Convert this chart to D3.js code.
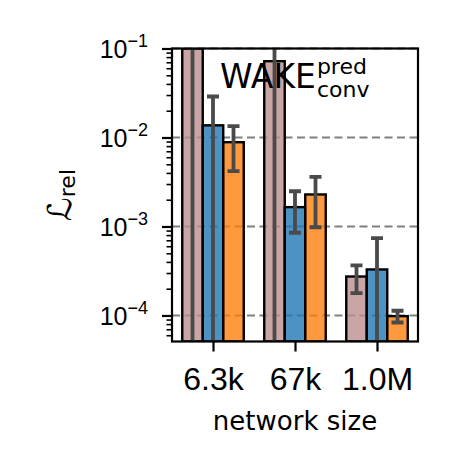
<!DOCTYPE html>
<html>
<head>
  <meta charset="utf-8">
  <title>WAKE conv</title>
  <style>
    body { margin: 0; background: #fff; }
    svg { font-family: "DejaVu Sans", sans-serif; }
    .axis path, .axis line { stroke: #000; }
    .grid line { stroke: #7f7f7f; stroke-dasharray: 8,4.5; stroke-width: 2.2; }
  </style>
</head>
<body>
<svg width="454" height="469"></svg>
<script src="https://cdn.jsdelivr.net/npm/d3@7"></script>
<script>
  // network sizes on the x axis
  var sizes = ["6.3k", "67k", "1.0M"];
  var seriesColors = ["#bc8f8f", "#1f77b4", "#ff7f0e"];

  // bar heights and error ranges per series (0 = below the axis, clipped)
  var pinkVals = [0.5, 0.072, 0.000274],
      pinkLo = [0, 0, 0.000178],
      pinkHi = [1, 0.2, 0.000365];
  var blueVals = [0.0137, 0.00165, 0.000329],
      blueLo = [0, 0.00085, 0],
      blueHi = [0.0289, 0.00249, 0.00074];
  var orangeVals = [0.00885, 0.00229, 0.0000983],
      orangeLo = [0.00418, 0.00098, 0.0000834],
      orangeHi = [0.0134, 0.00361, 0.000113];

  var majorTicks = [1e-4, 1e-3, 1e-2, 1e-1];
  var majorExp = ["\u22124", "\u22123", "\u22122", "\u22121"];

  var series = [
    {vals: pinkVals, lo: pinkLo, hi: pinkHi},
    {vals: blueVals, lo: blueLo, hi: blueHi},
    {vals: orangeVals, lo: orangeLo, hi: orangeHi}
  ];

  var svg = d3.select("svg"),
      pLeft = 172, pRight = 418, pTop = 48.5, pBottom = 341.5;

  var x = d3.scaleLinear().domain([-0.5, 2.5]).range([pLeft, pRight]),
      y = d3.scaleLog().domain([5.1e-5, 0.1]).range([pBottom, pTop]).clamp(true);
  var barW = 0.25;

  svg.append("clipPath").attr("id", "clip")
    .append("rect").attr("x", pLeft).attr("y", pTop)
    .attr("width", pRight - pLeft).attr("height", pBottom - pTop);

  // dashed grid at the decades
  svg.append("g").attr("class", "grid")
    .selectAll("line").data(majorTicks).enter().append("line")
      .attr("x1", pLeft).attr("x2", pRight)
      .attr("y1", function(d) { return y(d); })
      .attr("y2", function(d) { return y(d); });

  var plot = svg.append("g").attr("clip-path", "url(#clip)");

  var bars = [], errs = [];
  series.forEach(function(s, si) {
    s.vals.forEach(function(v, i) {
      var cx = i + (si - 1) * barW;
      bars.push({cx: cx, v: v, color: seriesColors[si]});
      errs.push({cx: cx, lo: s.lo[i], hi: s.hi[i]});
    });
  });

  plot.selectAll(".bar").data(bars).enter().append("rect")
      .attr("class", "bar")
      .attr("x", function(d) { return x(d.cx - barW / 2); })
      .attr("width", x(barW) - x(0))
      .attr("y", function(d) { return y(d.v); })
      .attr("height", function(d) { return pBottom - y(d.v); })
      .attr("fill", function(d) { return d.color; })
      .attr("fill-opacity", 0.8)
      .attr("stroke", "#000")
      .attr("stroke-width", 2.4);

  var eg = plot.selectAll(".err").data(errs).enter().append("g")
      .attr("class", "err")
      .attr("stroke", "#4a4a4a")
      .attr("stroke-width", 3.8);

  eg.append("line")
      .attr("x1", function(d) { return x(d.cx); })
      .attr("x2", function(d) { return x(d.cx); })
      .attr("y1", function(d) { return y(d.lo); })
      .attr("y2", function(d) { return y(d.hi); });

  var inDomain = function(v) { return v > 5.1e-5 && v < 0.1; };
  eg.each(function(d) {
    var g = d3.select(this);
    [d.lo, d.hi].filter(inDomain).forEach(function(v) {
      g.append("line")
        .attr("x1", x(d.cx) - 6).attr("x2", x(d.cx) + 6)
        .attr("y1", y(v)).attr("y2", y(v));
    });
  });

  // axes
  var minor = [];
  [1e-5, 1e-4, 1e-3, 1e-2].forEach(function(dec) {
    for (var k = 2; k <= 9; k++) if (dec * k > 5.1e-5 && dec * k < 0.1) minor.push(dec * k);
  });

  svg.append("g").attr("class", "axis")
      .attr("transform", "translate(" + pLeft + ",0)")
      .call(d3.axisLeft(y).tickValues(minor).tickSize(5.5).tickFormat(""))
      .call(function(g) { g.select(".domain").remove(); g.selectAll("line").attr("stroke-width", 1.6); });

  var yAx = svg.append("g").attr("class", "axis")
      .attr("transform", "translate(" + pLeft + ",0)")
      .call(d3.axisLeft(y).tickValues(majorTicks).tickSize(10).tickFormat(""));
  yAx.select(".domain").remove();
  yAx.selectAll("line").attr("stroke-width", 2.2);
  yAx.selectAll(".tick").append("text")
      .attr("x", -24).attr("y", 9)
      .attr("fill", "#000").attr("text-anchor", "end")
      .style("font-size", "25px")
      .each(function(d, i) {
        var t = d3.select(this);
        t.append("tspan").text("10");
        t.append("tspan").attr("dy", -11).style("font-size", "18px").text(majorExp[i]);
      });

  var xAx = svg.append("g").attr("class", "axis")
      .attr("transform", "translate(0," + pBottom + ")")
      .call(d3.axisBottom(x).tickValues([0, 1, 2]).tickSize(10)
        .tickFormat(function(d) { return sizes[d]; }));
  xAx.select(".domain").remove();
  xAx.selectAll("line").attr("stroke-width", 2.2);
  xAx.selectAll("text").attr("y", 48.5).attr("dy", null)
      .attr("fill", "#000").style("font-size", "32px");

  // frame
  svg.append("rect")
      .attr("x", pLeft).attr("y", pTop)
      .attr("width", pRight - pLeft).attr("height", pBottom - pTop)
      .attr("fill", "none").attr("stroke", "#000").attr("stroke-width", 2.2);

  // labels
  svg.append("text")
      .attr("x", (pLeft + pRight) / 2).attr("y", 430)
      .attr("text-anchor", "middle").style("font-size", "26px")
      .text("network size");

  var yl = svg.append("text")
      .attr("transform", "translate(71," + (pTop + pBottom) / 2 + ") rotate(-90)")
      .attr("text-anchor", "middle");
  yl.append("tspan").style("font-size", "33px").style("font-style", "italic").text("\u2112");
  yl.append("tspan").attr("dy", 4).style("font-size", "22px").text("rel");

  var title = svg.append("text").attr("x", 220).attr("y", 88)
      .style("font-size", "33px").text("WAKE");
  var tx = 220 + title.node().getComputedTextLength() + 1;
  svg.append("text").attr("x", tx).attr("y", 74).style("font-size", "22px").text("pred");
  svg.append("text").attr("x", tx).attr("y", 97).style("font-size", "22px").text("conv");
</script>
</body>
</html>
